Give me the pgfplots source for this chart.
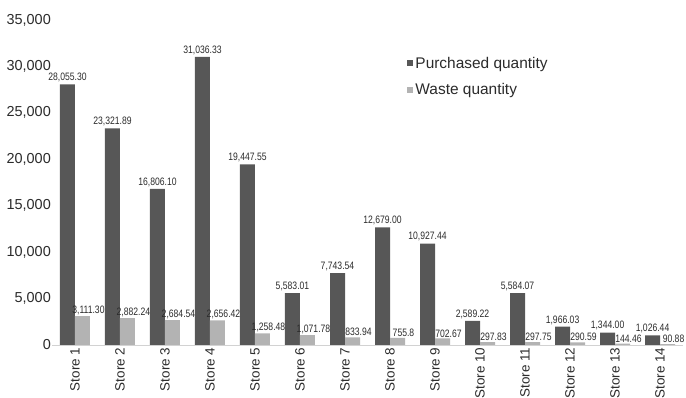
\documentclass[border=0pt]{standalone}
\usepackage{pgfplots}
\pgfplotsset{compat=1.18}
\usepackage{fontspec}
\setmainfont{Liberation Sans}
\definecolor{darkbar}{HTML}{575757}
\definecolor{lightbar}{HTML}{B3B3B3}
\definecolor{txt}{HTML}{2B2B2B}
\begin{document}
\begin{tikzpicture}
\useasboundingbox (0,0) rectangle (686bp,398bp);
\begin{axis}[
  at={(52bp,53bp)}, anchor=south west,
  scale only axis, width=631bp, height=325bp,
  ybar=0pt, bar width=15bp,
  xmin=-0.51, xmax=13.51, ymin=0, ymax=35000,
  xtick={0,...,13},
  xticklabels={Store 1,Store 2,Store 3,Store 4,Store 5,Store 6,Store 7,Store 8,Store 9,Store 10,Store 11,Store 12,Store 13,Store 14},
  xticklabel style={rotate=90, anchor=east, font=\fontsize{13.5}{13.5}\selectfont, text=txt, inner sep=2.5bp},
  ytick={0,5000,...,35000},
  yticklabel style={font=\fontsize{14.5}{14.5}\selectfont, text=txt, inner sep=1bp},
  scaled y ticks=false,
  /pgf/number format/1000 sep={,},
  /pgf/number format/assume math mode=true,
  axis x line*=bottom, axis y line*=left,
  y axis line style={draw=none},
  x axis line style={draw=gray!35, line width=0.8pt, -},
  major tick length=0pt,
  point meta=explicit symbolic,
  nodes near coords={\scalebox{0.8}[1]{\pgfplotspointmeta}},
  every node near coord/.append style={font=\fontsize{10.8}{10.8}\selectfont, text=txt, inner sep=1bp, anchor=south},
  legend style={draw=none, fill=none, at={(0.563,0.893)}, anchor=north west, font=\fontsize{15.5}{15.5}\selectfont, text=txt, row sep=10bp, inner sep=0pt, legend cell align=left},
  legend image code/.code={\fill[#1] (0bp,-3bp) rectangle (6bp,3bp);},
]
\addplot[fill=darkbar, draw=none, every node near coord/.append style={yshift=1bp}] coordinates {
(0,28055.30) [28,055.30]
(1,23321.89) [23,321.89]
(2,16806.10) [16,806.10]
(3,31036.33) [31,036.33]
(4,19447.55) [19,447.55]
(5,5583.01) [5,583.01]
(6,7743.54) [7,743.54]
(7,12679.00) [12,679.00]
(8,10927.44) [10,927.44]
(9,2589.22) [2,589.22]
(10,5584.07) [5,584.07]
(11,1966.03) [1,966.03]
(12,1344.00) [1,344.00]
(13,1026.44) [1,026.44]
};
\addplot[fill=lightbar, draw=none, every node near coord/.append style={xshift=6bp}] coordinates {
(0,3111.30) [3,111.30]
(1,2882.24) [2,882.24]
(2,2684.54) [2,684.54]
(3,2656.42) [2,656.42]
(4,1258.48) [1,258.48]
(5,1071.78) [1,071.78]
(6,833.94) [833.94]
(7,755.8) [755.8]
(8,702.67) [702.67]
(9,297.83) [297.83]
(10,297.75) [297.75]
(11,290.59) [290.59]
(12,144.46) [144.46]
(13,90.88) [90.88]
};
\legend{Purchased quantity, Waste quantity}
\end{axis}
\end{tikzpicture}
\end{document}
